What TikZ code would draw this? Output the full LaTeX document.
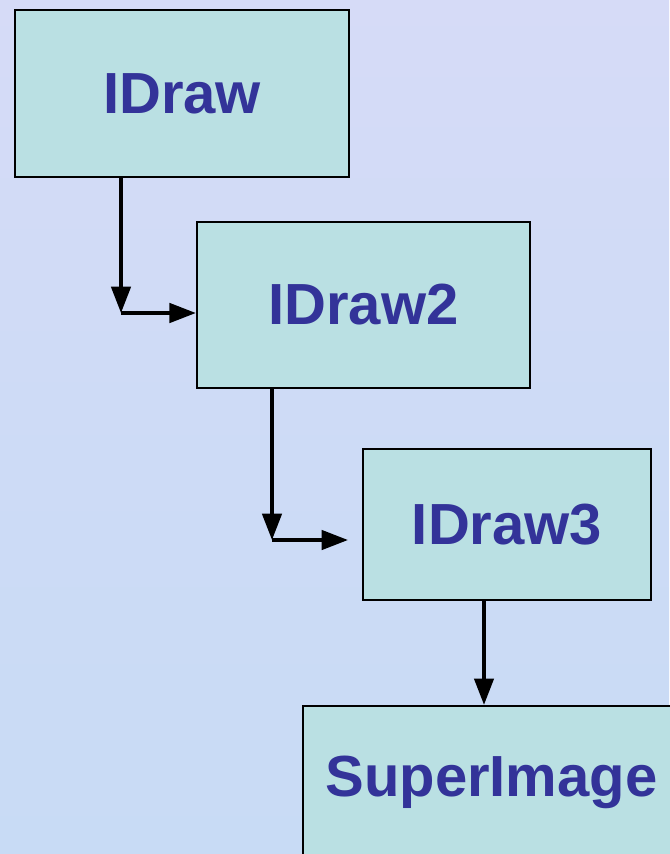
\documentclass[tikz,border=0pt]{standalone}
\usepackage{fontspec}
\setmainfont{Liberation Sans}
\usepackage{xcolor}
\usepackage{tikz}
\usetikzlibrary{arrows.meta, positioning}

\definecolor{bglav}{HTML}{D6DBF7}
\definecolor{bgsky}{HTML}{C8DBF5}
\definecolor{boxfill}{HTML}{BAE0E3}
\definecolor{txtblue}{HTML}{333399}

\begin{document}
\begin{tikzpicture}[
        box/.style={rectangle, draw, line width=1.3pt, fill=boxfill, text=txtblue,
            font=\fontsize{33}{40}\selectfont\bfseries, inner sep=0pt},
        arrow/.style={-{Triangle[length=15pt, width=11pt]}, line width=2pt}
    ]
        % background
        \useasboundingbox (0,0) rectangle (13.38,-17.08);
        \shade[top color=bglav, bottom color=bgsky, middle color=bgsky!60!bglav]
            (0,0) rectangle (13.38,-17.08);

        \node[box, minimum width=6.68cm, minimum height=3.34cm] (IDraw) at (3.64,-1.87) {IDraw};
        \node[box, minimum width=6.66cm, minimum height=3.32cm] (IDraw2) at (7.27,-6.10) {IDraw2};
        \node[box, minimum width=5.76cm, minimum height=3.02cm] (IDraw3) at (10.14,-10.49) {IDraw3};
        \node[box, minimum width=7.54cm, minimum height=3.04cm] (SuperImage) at (9.83,-15.64) {SuperImage};

        \coordinate (c1) at (2.42,-6.26);
        \coordinate (c2) at (5.44,-10.80);
        \coordinate (e2) at (6.96,-10.80);
        \coordinate (c3) at (9.68,-13.00);

        \draw[arrow] (IDraw.south -| c1) -- (c1);
        \draw[arrow] (c1) -- (c1 -| IDraw2.west);
        \draw[arrow] (IDraw2.south -| c2) -- (c2);
        \draw[arrow] (c2) -- (e2);
        \draw[arrow] (IDraw3.south -| c3) -- (SuperImage.north -| c3);
    \end{tikzpicture}
\end{document}
